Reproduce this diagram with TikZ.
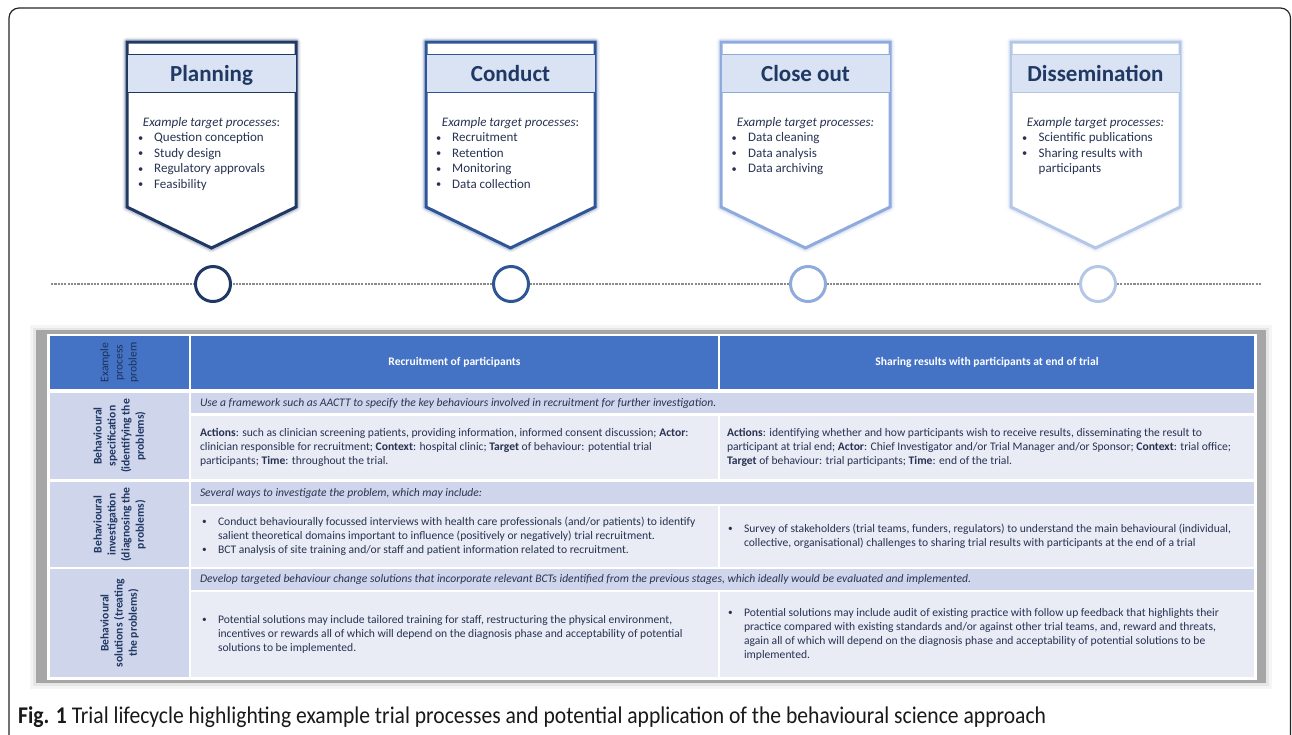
\documentclass[tikz,border=0pt]{standalone}
\usepackage{fontspec}
\setmainfont{Carlito}
\usepackage{graphicx}
\usepackage{array}
\usetikzlibrary{calc}
\definecolor{navyA}{HTML}{1F3864}
\definecolor{navyB}{HTML}{2F5597}
\definecolor{blueC}{HTML}{8FAADC}
\definecolor{blueD}{HTML}{B4C7E7}
\definecolor{bandfill}{HTML}{DAE3F3}
\definecolor{hdrblue}{HTML}{4472C4}
\definecolor{lav}{HTML}{CFD5EA}
\definecolor{pale}{HTML}{E9EBF5}
\definecolor{txt}{HTML}{283352}
\definecolor{framegray}{HTML}{A6A6A6}
\definecolor{dotgray}{HTML}{8A8A8A}
\newcommand\pentfont{\fontsize{13}{15.6}\selectfont}
\newcommand\tabfont{\fontsize{11.6}{14.1}\selectfont}
\newcommand\bul{\raisebox{0.5pt}{\scalebox{0.8}{\textbullet}}}
% stage shield: #1 left x, #2 colour, #3 name, #4 title
\newcommand\stageshield[4]{%
  \pgfmathsetmacro\sR{#1+169}\pgfmathsetmacro\sC{#1+84.5}%
  \draw[#2, line width=9pt, opacity=0.10, line join=round] (#1,42) -- (\sR,42) -- (\sR,207) -- (\sC,248) -- (#1,207) -- cycle;
  \draw[#2, line width=6pt, opacity=0.18, line join=round] (#1,42) -- (\sR,42) -- (\sR,207) -- (\sC,248) -- (#1,207) -- cycle;
  \draw[#2, line width=3pt, fill=white, line join=miter] (#1,42) -- (\sR,42) -- (\sR,207) -- (\sC,248) -- (#1,207) -- cycle;
  \node[band, draw=#2] (#3) at (\sC,72) {#4};
}
\begin{document}
\begin{tikzpicture}[x=1pt,y=-1pt,
  band/.style={fill=bandfill, line width=0.9pt, minimum width=169pt, minimum height=38pt, inner sep=0pt,
     text=navyA, font=\fontsize{23}{26}\selectfont\bfseries, yshift=-1.5pt, text depth=0pt},
  ptext/.style={inner sep=0pt, text=txt, font=\pentfont},
  ttext/.style={inner sep=0pt, text=txt, font=\tabfont, align=left},
  hdtext/.style={inner sep=0pt, text=white, font=\tabfont\bfseries},
  lab/.style={inner sep=0pt, text=navyA, font=\tabfont\bfseries, align=center, rotate=90},
  cellbox/.style={inner sep=0pt, draw=none},
  tdot/.style={circle, fill=white, line width=3pt, minimum size=35pt, inner sep=0pt},
  timeline/.style={dotgray, line width=1.4pt, dash pattern=on 2.2pt off 1.1pt},
]
\useasboundingbox (0,0) rectangle (1292,734);
\fill[white] (0,0) rectangle (1292,734);
\draw[black!85, line width=1.2pt, rounded corners=10pt] (9,8) rectangle (1290.5,745);

% ---------- stages ----------
\stageshield{127}{navyA}{s1}{Planning}
\stageshield{426}{navyB}{s2}{Conduct}
\stageshield{721}{blueC}{s3}{Close out}
\stageshield{1011}{blueD}{s4}{Dissemination}

\node[ptext, anchor=base] (e1) at (211.5,126) {\textit{Example target processes}:};
\node[ptext, anchor=base] (e2) at (510.5,126) {\textit{Example target processes}:};
\node[ptext, anchor=base] (e3) at (805.5,126) {\textit{Example target processes:}};
\node[ptext, anchor=base] (e4) at (1095.5,126) {\textit{Example target processes:}};

\node[ptext, anchor=base west] (l1) at (138,141.5) {\begin{tabular}[t]{@{}p{16pt}@{}l@{}}\bul & Question conception\\ \bul & Study design\\ \bul & Regulatory approvals\\ \bul & Feasibility\end{tabular}};
\node[ptext, anchor=base west] (l2) at (436,141.5) {\begin{tabular}[t]{@{}p{16pt}@{}l@{}}\bul & Recruitment\\ \bul & Retention\\ \bul & Monitoring\\ \bul & Data collection\end{tabular}};
\node[ptext, anchor=base west] (l3) at (731.5,141.5) {\begin{tabular}[t]{@{}p{16.5pt}@{}l@{}}\bul & Data cleaning\\ \bul & Data analysis\\ \bul & Data archiving\end{tabular}};
\node[ptext, anchor=base west] (l4) at (1022,141.5) {\begin{tabular}[t]{@{}p{16.5pt}@{}l@{}}\bul & Scientific publications\\ \bul & Sharing results with\\ & participants\end{tabular}};

% ---------- timeline ----------
\coordinate (t0) at (51,284);
\coordinate (t1) at (1261,284);
\draw[timeline] (t0) -- (t1);
\node[tdot, draw=navyA] (c1) at (213,284) {};
\node[tdot, draw=navyB] (c2) at (511,284) {};
\node[tdot, draw=blueC] (c3) at (808,284) {};
\node[tdot, draw=blueD] (c4) at (1098,284) {};

% ---------- table frame ----------
\fill[black, opacity=0.04] (30,325) rectangle (1272,689);
\fill[black, opacity=0.06] (33,328) rectangle (1269,686);
\fill[framegray] (36,330) rectangle (1266,683);
\fill[white] (47,334) rectangle (1257,680);

% ---------- cells ----------
\node[cellbox, fill=hdrblue, minimum width=139pt, minimum height=53pt] (h1) at (119.5,362.5) {};
\node[cellbox, fill=hdrblue, minimum width=527pt, minimum height=53pt] (h2) at (454.5,362.5) {};
\node[cellbox, fill=hdrblue, minimum width=534pt, minimum height=53pt] (h3) at (987,362.5) {};

\node[cellbox, fill=lav, minimum width=139pt, minimum height=86pt] (a1) at (119.5,436) {};
\node[cellbox, fill=lav, minimum width=1063pt, minimum height=20pt] (a0) at (722.5,403) {};
\node[cellbox, fill=pale, minimum width=527pt, minimum height=63pt] (a2) at (454.5,447.5) {};
\node[cellbox, fill=pale, minimum width=534pt, minimum height=63pt] (a3) at (987,447.5) {};

\node[cellbox, fill=lav, minimum width=139pt, minimum height=85pt] (b1) at (119.5,524.5) {};
\node[cellbox, fill=lav, minimum width=1063pt, minimum height=22pt] (b0) at (722.5,493) {};
\node[cellbox, fill=pale, minimum width=527pt, minimum height=61pt] (b2) at (454.5,536.5) {};
\node[cellbox, fill=pale, minimum width=534pt, minimum height=61pt] (b3) at (987,536.5) {};

\node[cellbox, fill=lav, minimum width=139pt, minimum height=108pt] (c1c) at (119.5,623) {};
\node[cellbox, fill=lav, minimum width=1063pt, minimum height=21pt] (c0) at (722.5,579.5) {};
\node[cellbox, fill=pale, minimum width=527pt, minimum height=85pt] (c2c) at (454.5,634.5) {};
\node[cellbox, fill=pale, minimum width=534pt, minimum height=85pt] (c3c) at (987,634.5) {};

% ---------- header texts ----------
\node[inner sep=0pt, text=navyA!90!black, font=\tabfont, align=center, rotate=90] (h1t) at (h1.center) {Example\\process\\problem};
\node[hdtext] (h2t) at (h2.center) {Recruitment of participants};
\node[hdtext] (h3t) at (h3.center) {Sharing results with participants at end of trial};

% ---------- row labels ----------
\node[lab] (a1t) at (a1.center) {Behavioural\\specification\\(identifying the\\problems)};
\node[lab] (b1t) at (b1.center) {Behavioural\\investigation\\(diagnosing the\\problems)};
\node[lab] (c1t) at (c1c.center) {Behavioural\\solutions (treating\\the problems)};

% ---------- row 1 ----------
\node[ttext, anchor=west] (a0t) at ([xshift=9pt]a0.west) {\textit{Use a framework such as AACTT to specify the key behaviours involved in recruitment for further investigation.}};
\node[ttext, anchor=west] (a2t) at ([xshift=9pt]a2.west) {\textbf{Actions}: such as clinician screening patients, providing information, informed consent discussion; \textbf{Actor}:\\clinician responsible for recruitment; \textbf{Context}: hospital clinic; \textbf{Target} of behaviour: potential trial\\participants; \textbf{Time}: throughout the trial.};
\node[ttext, anchor=west] (a3t) at ([xshift=7pt]a3.west) {\textbf{Actions}: identifying whether and how participants wish to receive results, disseminating the result to\\participant at trial end; \textbf{Actor}: Chief Investigator and/or Trial Manager and/or Sponsor; \textbf{Context}: trial office;\\\textbf{Target} of behaviour: trial participants; \textbf{Time}: end of the trial.};

% ---------- row 2 ----------
\node[ttext, anchor=west] (b0t) at ([xshift=9pt]b0.west) {\textit{Several ways to investigate the problem, which may include:}};
\node[ttext, anchor=west] (b2t) at ([xshift=11pt]b2.west) {\begin{tabular}{@{}p{16pt}@{}l@{}}\bul & Conduct behaviourally focussed interviews with health care professionals (and/or patients) to identify\\ & salient theoretical domains important to influence (positively or negatively) trial recruitment.\\ \bul & BCT analysis of site training and/or staff and patient information related to recruitment.\end{tabular}};
\node[ttext, anchor=west] (b3t) at ([xshift=8pt]b3.west) {\begin{tabular}{@{}p{16pt}@{}l@{}}\bul & Survey of stakeholders (trial teams, funders, regulators) to understand the main behavioural (individual,\\ & collective, organisational) challenges to sharing trial results with participants at the end of a trial\end{tabular}};

% ---------- row 3 ----------
\node[ttext, anchor=west] (c0t) at ([xshift=9pt]c0.west) {\textit{Develop targeted behaviour change solutions that incorporate relevant BCTs identified from the previous stages, which ideally would be evaluated and implemented.}};
\node[ttext, anchor=west] (c2t) at ([xshift=11pt]c2c.west) {\begin{tabular}{@{}p{16pt}@{}l@{}}\bul & Potential solutions may include tailored training for staff, restructuring the physical environment,\\ & incentives or rewards all of which will depend on the diagnosis phase and acceptability of potential\\ & solutions to be implemented.\end{tabular}};
\node[ttext, anchor=west] (c3t) at ([xshift=8pt]c3c.west) {\begin{tabular}{@{}p{16pt}@{}l@{}}\bul & Potential solutions may include audit of existing practice with follow up feedback that highlights their\\ & practice compared with existing standards and/or against other trial teams, and, reward and threats,\\ & again all of which will depend on the diagnosis phase and acceptability of potential solutions to be\\ & implemented.\end{tabular}};

% ---------- caption ----------
\node[anchor=base west, inner sep=0pt, text=black!90] (cap) at (18,723) {\resizebox{1028pt}{\height}{\fontsize{24}{28}\selectfont\textbf{Fig. 1} Trial lifecycle highlighting example trial processes and potential application of the behavioural science approach}};
\end{tikzpicture}
\end{document}
